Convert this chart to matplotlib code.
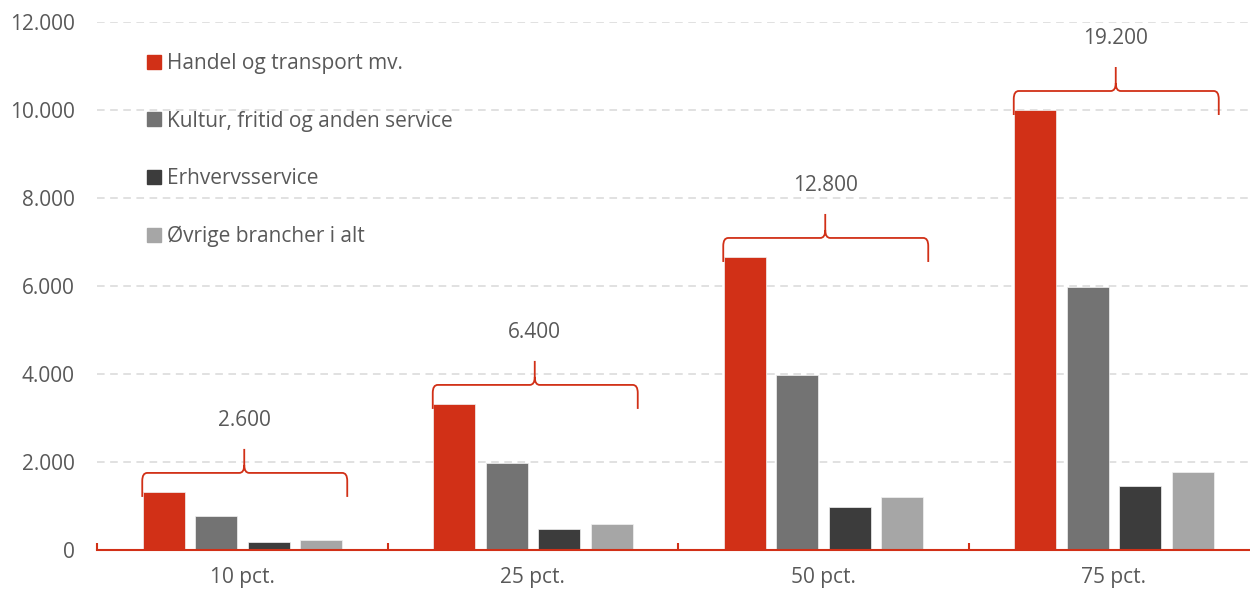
import numpy as np
import matplotlib
matplotlib.use("Agg")
import matplotlib.pyplot as plt
from matplotlib.path import Path
from matplotlib.patches import PathPatch
from matplotlib.lines import Line2D

plt.rcParams['font.family'] = ['Open Sans', 'DejaVu Sans']

categories = ["10 pct.", "25 pct.", "50 pct.", "75 pct."]
series_names = ["Handel og transport mv.", "Kultur, fritid og anden service",
                "Erhvervsservice", "Øvrige brancher i alt"]
handel = [1320, 3320, 6660, 10000]
kultur = [780, 1980, 3980, 5980]
erhverv = [180, 480, 980, 1450]
ovrige = [230, 590, 1200, 1770]
totals = [2600, 6400, 12800, 19200]
yticks = [0, 2000, 4000, 6000, 8000, 10000, 12000]

colors = ["#D13017", "#737373", "#3C3C3C", "#A6A6A6"]
text_col = "#595959"
red = "#D13017"
FS = 15

W, H = 1250, 592
fig = plt.figure(figsize=(W / 100, H / 100), dpi=100)
ax_l, ax_r, ax_b, ax_t = 97, 1259, 42, 570
ax = fig.add_axes([ax_l / W, ax_b / H, (ax_r - ax_l) / W, (ax_t - ax_b) / H])
ax.set_xlim(-0.5, 3.5)
ax.set_ylim(0, 12000)

px_x = 4.0 / (ax_r - ax_l)
px_y = 12000.0 / (ax_t - ax_b)

x = np.arange(len(categories))
bw = 42 * px_x
pitch = 52.5 * px_x
all_series = [handel, kultur, erhverv, ovrige]
for i, (vals, c) in enumerate(zip(all_series, colors)):
    offs = (i - 1.5) * pitch
    ax.bar(x + offs, vals, width=bw, color=c, edgecolor="#f2f2f2", linewidth=0.5, zorder=3)

# grid
ax.set_yticks(yticks)
ax.set_yticklabels([f"{v:,}".replace(",", ".") for v in yticks])
ax.yaxis.grid(True, color="#d9d9d9", linewidth=1.1, linestyle=(0, (5, 3.6)), zorder=0)
ax.set_axisbelow(True)
ax.tick_params(axis='y', length=0, pad=16, labelsize=FS, labelcolor=text_col)

ax.set_xticks(x)
ax.set_xticklabels(categories)
ax.tick_params(axis='x', length=0, pad=12, labelsize=FS, labelcolor=text_col)
ax.set_xticks(np.arange(-0.5, 4.0, 1.0), minor=True)
ax.tick_params(axis='x', which='minor', direction='in', length=5, width=1.5, color=red)

for s in ["left", "right", "top"]:
    ax.spines[s].set_visible(False)
ax.spines["bottom"].set_color(red)
ax.spines["bottom"].set_linewidth(1.5)
ax.spines["bottom"].set_zorder(4)

# braces
for i in range(len(categories)):
    group_max = max(s[i] for s in all_series)
    h = group_max + 19 * px_y
    x0 = x[i] - 100 * px_x
    x1 = x[i] + 105 * px_x
    xc = x[i] + 2 * px_x
    drop = 24 * px_y
    cw, ch = 5 * px_x, 8 * px_y
    tip = 24 * px_y
    verts = [
        (x0, h - drop), (x0, h - ch),
        (x0, h), (x0 + cw, h),
        (xc - cw, h),
        (xc, h), (xc, h + ch),
        (xc, h + tip),
        (xc, h + ch),
        (xc, h), (xc + cw, h),
        (x1 - cw, h),
        (x1, h), (x1, h - ch),
        (x1, h - drop),
    ]
    codes = [Path.MOVETO, Path.LINETO,
             Path.CURVE3, Path.CURVE3,
             Path.LINETO,
             Path.CURVE3, Path.CURVE3,
             Path.LINETO,
             Path.MOVETO,
             Path.CURVE3, Path.CURVE3,
             Path.LINETO,
             Path.CURVE3, Path.CURVE3,
             Path.LINETO]
    ax.add_patch(PathPatch(Path(verts, codes), facecolor="none", edgecolor=red,
                           linewidth=1.3, zorder=5, clip_on=False))
    ax.text(xc, h + tip + 28 * px_y, f"{totals[i]:,}".replace(",", "."),
            ha="center", va="center", fontsize=FS, color=text_col, zorder=6)

# legend
handles = [Line2D([0], [0], marker='s', linestyle='none', markersize=10,
                  markerfacecolor=c, markeredgecolor=c) for c in colors]
leg = ax.legend(handles, series_names, loc="upper left",
                bbox_to_anchor=(147 / W, (H - 53) / H), bbox_transform=fig.transFigure,
                frameon=False, fontsize=FS, labelcolor=text_col,
                handlelength=0.7, handletextpad=0.25, labelspacing=1.76,
                borderaxespad=0, borderpad=0)

fig.savefig("out.png", dpi=100)
